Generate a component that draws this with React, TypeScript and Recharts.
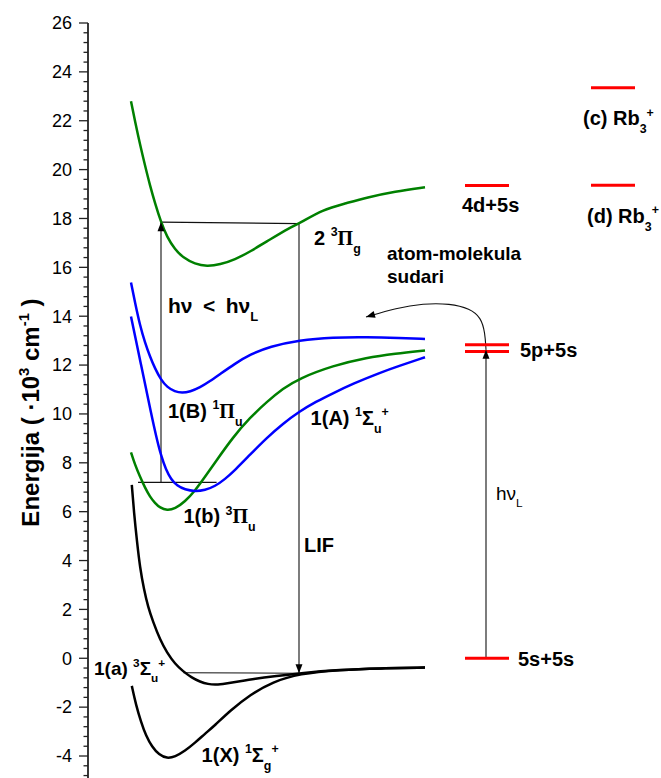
import React from 'react'
import { ComposedChart, Line, Scatter, XAxis, YAxis } from 'recharts'

type Pt = [number, number]
type Part = { t: string; s?: 'sup' | 'sub'; serif?: boolean }

// potential curves, R (arb. units) vs E (10^3 cm^-1)
const curveX: Pt[] = [[2.19, -1.13], [2.4, -1.91], [2.65, -2.6], [2.9, -3.17], [3.2, -3.62], [3.55, -3.95], [3.95, -4.1], [4.35, -4.03], [4.85, -3.79], [5.35, -3.46], [5.85, -3.09], [6.35, -2.74], [7.1, -2.15], [8.1, -1.49], [9.25, -0.96], [10.55, -0.63], [12.6, -0.47], [14.6, -0.41], [16.85, -0.38]]
const curveA3: Pt[] = [[2.19, 7.1], [2.3, 5.96], [2.45, 4.77], [2.6, 3.71], [2.8, 2.81], [3.0, 2.11], [3.25, 1.5], [3.6, 0.76], [3.95, 0.23], [4.35, -0.23], [4.75, -0.53], [5.2, -0.8], [5.6, -0.96], [6.0, -1.06], [6.4, -1.09], [6.85, -1.04], [7.6, -0.94], [8.35, -0.84], [9.25, -0.74], [10.55, -0.61], [12.6, -0.47], [14.6, -0.41], [16.85, -0.38]]
const curveB3: Pt[] = [[2.15, 8.43], [2.35, 7.92], [2.6, 7.43], [2.85, 6.98], [3.1, 6.61], [3.35, 6.35], [3.6, 6.16], [3.95, 6.05], [4.35, 6.12], [4.85, 6.41], [5.35, 6.86], [5.85, 7.43], [6.35, 8.01], [7.25, 9.05], [8.1, 9.85], [8.95, 10.5], [9.75, 11.04], [10.55, 11.45], [12.25, 11.98], [13.95, 12.31], [15.35, 12.47], [16.85, 12.6]]
const curveA1: Pt[] = [[2.15, 13.99], [2.4, 13.0], [2.65, 12.02], [2.9, 11.04], [3.15, 10.05], [3.4, 9.11], [3.65, 8.29], [3.9, 7.72], [4.15, 7.33], [4.45, 7.06], [4.85, 6.9], [5.35, 6.83], [5.85, 6.88], [6.35, 7.04], [6.85, 7.33], [7.35, 7.7], [8.1, 8.33], [8.95, 9.03], [9.75, 9.6], [10.55, 10.09], [11.4, 10.5], [12.25, 10.85], [13.25, 11.24], [14.6, 11.69], [15.6, 11.98], [16.85, 12.32]]
const curveB1: Pt[] = [[2.15, 15.38], [2.35, 14.56], [2.6, 13.62], [2.85, 12.92], [3.1, 12.35], [3.35, 11.86], [3.65, 11.4], [3.95, 11.1], [4.35, 10.91], [4.7, 10.86], [5.1, 10.91], [5.6, 11.08], [6.1, 11.34], [6.6, 11.63], [7.35, 12.06], [8.1, 12.43], [9.1, 12.76], [10.55, 13.02], [12.25, 13.14], [13.95, 13.15], [15.6, 13.11], [16.85, 13.07]]
const curve2Pi: Pt[] = [[2.15, 22.8], [2.35, 21.98], [2.6, 21.03], [2.85, 20.17], [3.1, 19.35], [3.35, 18.63], [3.65, 17.85], [3.95, 17.24], [4.35, 16.73], [4.75, 16.4], [5.35, 16.13], [5.95, 16.04], [6.6, 16.11], [7.35, 16.32], [8.1, 16.64], [9.1, 17.14], [10.1, 17.63], [10.55, 17.79], [11.75, 18.37], [12.85, 18.61], [13.95, 18.86], [15.35, 19.1], [16.85, 19.28]]

// transitions
const absorption: Pt[] = [[3.65, 7.2], [3.65, 17.85]]
const topBar: Pt[] = [[3.65, 17.85], [10.55, 17.79]]
const lif: Pt[] = [[10.55, 17.79], [10.55, -0.61]]
const bottomBar: Pt[] = [[4.77, -0.59], [10.55, -0.61]]
const midBar: Pt[] = [[2.5, 7.2], [6.43, 7.2]]
const laser: Pt[] = [[19.9, 0], [19.9, 12.63]]
const collision: Pt[] = [[19.9, 12.63], [19.85, 13.33], [19.65, 13.94], [19.1, 14.31], [18.1, 14.52], [16.75, 14.52], [15.43, 14.34], [13.9, 13.97]]

// atomic / Rb3+ levels
const levelE = [0, 12.56, 12.83, 19.35, 23.35, 19.36]
const levelSpan: Pt[] = [[18.85, 21.05], [18.85, 21.05], [18.85, 21.05], [18.85, 21.05], [25.15, 27.35], [25.15, 27.35]]

const majorTicks = [-4, -2, 0, 2, 4, 6, 8, 10, 12, 14, 16, 18, 20, 22, 24, 26]

const labels: { r: number; e: number; w?: string; size?: number; parts: Part[] }[] = [
  { r: 11.3, e: 16.93, parts: [{ t: '2 ' }, { t: '3', s: 'sup' }, { t: 'Π', serif: true }, { t: 'g', s: 'sub' }] },
  { r: 14.95, e: 16.32, size: 19, parts: [{ t: 'atom-molekula' }] },
  { r: 14.95, e: 15.34, size: 19, parts: [{ t: 'sudari' }] },
  { r: 4.0, e: 14.14, size: 21, parts: [{ t: 'hν\u2002<\u2002hν' }, { t: 'L', s: 'sub' }] },
  { r: 4.0, e: 9.84, parts: [{ t: '1(B) ' }, { t: '1', s: 'sup' }, { t: 'Π', serif: true }, { t: 'u', s: 'sub' }] },
  { r: 11.13, e: 9.56, parts: [{ t: '1(A) ' }, { t: '1', s: 'sup' }, { t: 'Σ' }, { t: 'u', s: 'sub' }, { t: '+', s: 'sup' }] },
  { r: 4.77, e: 5.54, parts: [{ t: '1(b) ' }, { t: '3', s: 'sup' }, { t: 'Π', serif: true }, { t: 'u', s: 'sub' }] },
  { r: 10.8, e: 4.37, parts: [{ t: 'LIF' }] },
  { r: 0.3, e: -0.68, size: 19, parts: [{ t: '1(a) ' }, { t: '3', s: 'sup' }, { t: 'Σ' }, { t: 'u', s: 'sub' }, { t: '+', s: 'sup' }] },
  { r: 5.68, e: -4.23, parts: [{ t: '1(X) ' }, { t: '1', s: 'sup' }, { t: 'Σ' }, { t: 'g', s: 'sub' }, { t: '+', s: 'sup' }] },
  { r: 20.4, e: 6.49, w: 'normal', size: 19, parts: [{ t: 'hν' }, { t: 'L', s: 'sub' }] },
  { r: 21.6, e: 12.31, parts: [{ t: '5p+5s' }] },
  { r: 21.5, e: -0.31, parts: [{ t: '5s+5s' }] },
  { r: 18.7, e: 18.26, parts: [{ t: '4d+5s' }] },
  { r: 24.75, e: 21.81, parts: [{ t: '(c) Rb' }, { t: '3', s: 'sub' }, { t: '+', s: 'sup' }] },
  { r: 24.95, e: 17.82, parts: [{ t: '(d) Rb' }, { t: '3', s: 'sub' }, { t: '+', s: 'sup' }] },
]

const FONT = '"Liberation Sans", Arial, sans-serif'
const SERIF = '"Liberation Serif", "Times New Roman", serif'

const pts = (a: Pt[]) => a.map(([r, e]) => ({ r, e }))

const allTicks: number[] = []
majorTicks.forEach((m, i) => {
  allTicks.push(m)
  if (i < majorTicks.length - 1) for (let k = 1; k < 5; k++) allTicks.push(Math.round((m + k * 0.4) * 10) / 10)
})
allTicks.unshift(-4.8, -4.4)

function Rich({ x, y, parts, size = 20, weight = 'bold', anchor = 'start' }: {
  x: number; y: number; parts: Part[]; size?: number; weight?: string; anchor?: string
}) {
  let shift = 0
  return (
    <text x={x} y={y} fontSize={size} fontWeight={weight} fontFamily={FONT} fill="#000" textAnchor={anchor}>
      {parts.map((p, i) => {
        const target = p.s === 'sup' ? -0.42 * size : p.s === 'sub' ? 0.4 * size : 0
        const dy = target - shift
        shift = target
        return (
          <tspan key={i} dy={dy || undefined} fontSize={p.s ? size * 0.62 : size}
            fontFamily={p.serif ? SERIF : undefined}>{p.t}</tspan>
        )
      })}
    </text>
  )
}

const renderTick = (props: any) => {
  const { x, y, payload } = props
  const v = payload.value
  const major = majorTicks.includes(v)
  return (
    <g key={`t-${v}`}>
      <line x1={x - (major ? 9 : 4.5)} x2={x} y1={y} y2={y} stroke="#222" strokeWidth={1.3} />
      {major && (
        <text x={x - 16} y={y} dy="0.35em" textAnchor="end" fontSize={18} fontFamily={FONT} fill="#000">{v}</text>
      )}
    </g>
  )
}

const AxisTitle = (props: any) => {
  const vb = props.viewBox || { x: 8, y: 23, width: 80, height: 755 }
  const cx = vb.x + 31
  const cy = vb.y + vb.height / 2 + 12
  return (
    <g transform={`translate(${cx},${cy}) rotate(-90)`}>
      <Rich x={0} y={0} size={24} anchor="middle"
        parts={[{ t: 'Energija ( ·10' }, { t: '3', s: 'sup' }, { t: ' cm' }, { t: '-1', s: 'sup' }, { t: ' )' }]} />
    </g>
  )
}

const arrowDot = (props: any) => {
  const { cx, cy, index, points } = props
  const n = points ? points.length : 0
  if (!points || index !== n - 1) return <g key={`a-${index}`} />
  const p = points[n - 2]
  const ang = Math.atan2(cy - p.y, cx - p.x)
  const L = 9
  const W = 3.5
  const bx = cx - L * Math.cos(ang)
  const by = cy - L * Math.sin(ang)
  const nx = -Math.sin(ang) * W
  const ny = Math.cos(ang) * W
  return (
    <polygon key={`a-${index}`} points={`${cx},${cy} ${bx + nx},${by + ny} ${bx - nx},${by - ny}`} fill="#000" stroke="none" />
  )
}

const curves: { d: Pt[]; c: string }[] = [
  { d: curveX, c: '#000000' },
  { d: curveA3, c: '#000000' },
  { d: curveB3, c: '#008000' },
  { d: curveA1, c: '#0000ff' },
  { d: curveB1, c: '#0000ff' },
  { d: curve2Pi, c: '#008000' },
]

const bars: { d: Pt[]; arrow: boolean; curved?: boolean }[] = [
  { d: absorption, arrow: true },
  { d: topBar, arrow: false },
  { d: lif, arrow: true },
  { d: bottomBar, arrow: false },
  { d: midBar, arrow: false },
  { d: laser, arrow: true },
  { d: collision, arrow: true, curved: true },
]

export default function App() {
  return (
    <div>
      <style>{'body{margin:0}'}</style>
      <ComposedChart width={661} height={778} margin={{ top: 23, right: 0, bottom: 0, left: 8 }}>
        <XAxis type="number" dataKey="r" domain={[0, 28.65]} hide allowDataOverflow />
        <YAxis
          type="number"
          dataKey="e"
          domain={[-4.9, 26]}
          ticks={allTicks}
          interval={0}
          width={80}
          tickSize={0}
          tickMargin={0}
          tickLine={false}
          axisLine={{ stroke: '#222', strokeWidth: 1.8 }}
          tick={renderTick}
          allowDataOverflow
          label={<AxisTitle />}
        />
        {bars.map((b, i) => (
          <Line key={`b${i}`} data={pts(b.d)} dataKey="e" type={b.curved ? 'basis' : 'linear'}
            stroke="#111" strokeWidth={1.1} dot={b.arrow ? arrowDot : false} activeDot={false}
            isAnimationActive={false} />
        ))}
        {curves.map((c, i) => (
          <Line key={`c${i}`} data={pts(c.d)} dataKey="e" type="basis" stroke={c.c}
            strokeWidth={2.5} dot={false} activeDot={false} isAnimationActive={false} />
        ))}
        {levelE.map((e, i) => (
          <Line key={`l${i}`} data={[{ r: levelSpan[i][0], e }, { r: levelSpan[i][1], e }]} dataKey="e"
            type="linear" stroke="#ff0000" strokeWidth={3} dot={false} activeDot={false} isAnimationActive={false} />
        ))}
        <Scatter
          data={labels}
          dataKey="e"
          isAnimationActive={false}
          shape={(p: any) => (
            <Rich x={p.cx} y={p.cy} parts={p.payload.parts} weight={p.payload.w || 'bold'} size={p.payload.size || 20} />
          )}
        />
      </ComposedChart>
    </div>
  )
}
